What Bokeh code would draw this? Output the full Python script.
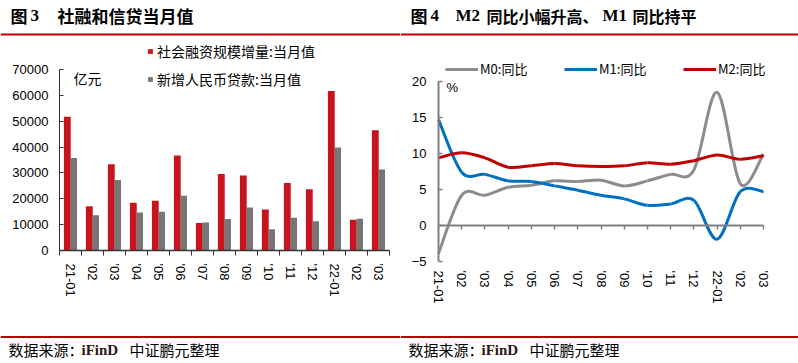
import numpy as np
from bokeh.plotting import figure
from bokeh.layouts import row
from bokeh.models import (Range1d, FixedTicker, LinearAxis, Label, BoxAnnotation,
                          Legend, LegendItem, ColumnDataSource)
from bokeh.embed import file_html
from bokeh.resources import INLINE

# ---------------- data ----------------
months = ["21-01", "'02", "'03", "'04", "'05", "'06", "'07", "'08", "'09",
          "'10", "'11", "'12", "22-01", "'02", "'03"]
tsf = [51700, 17100, 33400, 18500, 19200, 36700, 10600, 29600, 29000,
       15900, 26100, 23700, 61700, 11900, 46500]
loans = [35800, 13600, 27300, 14700, 15000, 21200, 10800, 12200, 16600,
         8262, 12700, 11300, 39800, 12300, 31300]
m0 = [-3.9, 4.2, 4.2, 5.3, 5.6, 6.2, 6.1, 6.3, 5.5, 6.2, 7.1, 7.7, 18.5, 5.8, 9.9]
m1 = [14.7, 7.4, 7.1, 6.2, 6.1, 5.5, 4.9, 4.2, 3.7, 2.8, 3.0, 3.5, -1.9, 4.7, 4.7]
m2 = [9.4, 10.1, 9.4, 8.1, 8.3, 8.6, 8.3, 8.2, 8.3, 8.7, 8.5, 9.0, 9.8, 9.2, 9.7]
left_yticks = [0, 10000, 20000, 30000, 40000, 50000, 60000, 70000]
right_yticks = [-5, 0, 5, 10, 15, 20]
left_series = ["社会融资规模增量:当月值", "新增人民币贷款:当月值"]
right_series = ["M0:同比", "M1:同比", "M2:同比"]

RED_BAR = "#C8141E"
GRAY_BAR = "#767676"
C_M0, C_M1, C_M2 = "#8C8C8C", "#0070C0", "#C00000"
LINE_RED = "#C00000"
CJK = "Noto Sans CJK SC"
LAT = "Liberation Sans"
SERIF = "Liberation Serif"

W_L, W_R, H = 400, 398, 363


def lab(p, x, y, text, size="14px", font=CJK, style="normal", color="black"):
    p.add_layout(Label(x=x, y=y, x_units="screen", y_units="screen", text=text,
                       text_font=font, text_font_size=size, text_font_style=style,
                       text_color=color, text_baseline="middle", text_align="left"))


def hline(p, left, right, bottom, top):
    p.add_layout(BoxAnnotation(left=left, right=right, bottom=bottom, top=top,
                               left_units="screen", right_units="screen",
                               bottom_units="screen", top_units="screen",
                               fill_color=LINE_RED, fill_alpha=1, line_color=None,
                               line_alpha=0))


def smooth(xs, ys):
    x = np.asarray(xs, float)
    y = np.asarray(ys, float)
    xp = np.concatenate([[x[0]], x, [x[-1]]])
    yp = np.concatenate([[y[0]], y, [y[-1]]])
    n = len(x)
    cx0 = x[:-1] + (xp[2:n + 1] - xp[0:n - 1]) / 6.0
    cy0 = y[:-1] + (yp[2:n + 1] - yp[0:n - 1]) / 6.0
    cx1 = x[1:] - (xp[3:n + 2] - xp[1:n]) / 6.0
    cy1 = y[1:] - (yp[3:n + 2] - yp[1:n]) / 6.0
    return dict(x0=x[:-1], y0=y[:-1], x1=x[1:], y1=y[1:],
                cx0=cx0, cy0=cy0, cx1=cx1, cy1=cy1)


def make_fig(w, xr, yr):
    p = figure(frame_width=w, frame_height=H, output_backend="svg", toolbar_location=None,
               x_range=Range1d(*xr), y_range=Range1d(*yr),
               x_axis_location=None, y_axis_location=None,
               min_border_left=0, min_border_right=0, min_border_top=0, min_border_bottom=0)
    p.outline_line_color = None
    p.xgrid.visible = False
    p.ygrid.visible = False
    return p


n = len(months)
idx = np.arange(n)

# ---------------- left chart ----------------
# frame covers the whole figure; plot area: x -0.5..14.5 -> 59..389 px, y 0..70000 -> 250..69 px
cat_px = 22.0
ypx_l = 70000 / 181.0
xl = (-0.5 - 59 / cat_px, -0.5 + (W_L - 59) / cat_px)
yl = (-(H - 250) * ypx_l, 70000 + 69 * ypx_l)
pl = make_fig(W_L, xl, yl)

bar1 = pl.vbar(x=idx - 0.145, top=tsf, width=0.31, fill_color=RED_BAR, line_color=None)
bar2 = pl.vbar(x=idx + 0.15, top=loans, width=0.29, fill_color=GRAY_BAR, line_color=None)

yax = LinearAxis(ticker=FixedTicker(ticks=left_yticks, minor_ticks=[]),
                 fixed_location=-0.5, bounds=(0, 70000))
yax.axis_line_color = "#333333"
yax.major_tick_line_color = "#333333"
yax.major_tick_in = 4
yax.major_tick_out = 0
yax.major_label_standoff = 11
yax.major_label_text_font = LAT
yax.major_label_text_font_size = "13px"
yax.major_label_text_color = "black"
pl.add_layout(yax, "left")

xax = LinearAxis(ticker=FixedTicker(ticks=list(idx), minor_ticks=list(np.arange(-0.5, n, 1.0))),
                 fixed_location=0, bounds=(-0.5, n - 0.5))
xax.major_label_overrides = {int(i): months[i] for i in idx}
xax.axis_line_color = "#333333"
xax.axis_line_width = 1.5
xax.major_tick_line_color = None
xax.major_tick_out = 0
xax.major_tick_in = 0
xax.minor_tick_line_color = "#333333"
xax.minor_tick_out = 5
xax.minor_tick_in = 0
xax.major_label_orientation = "vertical"
xax.major_label_standoff = 8
xax.major_label_text_font = LAT
xax.major_label_text_font_size = "13px"
xax.major_label_text_color = "black"
pl.add_layout(xax, "below")

leg_l = Legend(items=[LegendItem(label=left_series[0], renderers=[bar1]),
                      LegendItem(label=left_series[1], renderers=[bar2])],
               location=(147, 274), orientation="vertical",
               glyph_width=6, glyph_height=6, label_height=6, label_standoff=4,
               spacing=8, padding=0, margin=0, border_line_color=None,
               background_fill_alpha=0, label_text_font=CJK, label_text_font_size="14px",
               label_text_color="black")
pl.add_layout(leg_l, "center")

lab(pl, 73, 286, "亿元", size="14px")
lab(pl, 10, 348, "图", size="17px", style="bold")
lab(pl, 30, 348, "3", size="17px", font=SERIF, style="bold")
lab(pl, 57, 348, "社融和信贷当月值", size="17px", style="bold")
lab(pl, 8, 14, "数据来源：", size="15px")
lab(pl, 81, 14, "iFinD", size="15px", font=SERIF, style="bold", color="#2a1a10")
lab(pl, 129, 14, "中证鹏元整理", size="15px")
hline(pl, 0, W_L, 328, 330)
hline(pl, 0, W_L, 25.5, 27.5)

# ---------------- right chart ----------------
# plot area: x 0..14 -> 38..363 px, y -5..20 -> 261..81 px
pt_px = 325.0 / (n - 1)
ypx_r = 25.0 / 180.0
xr = (-38 / pt_px, (n - 1) + (W_R - 363) / pt_px)
yr = (-5 - (H - 261) * ypx_r, 20 + 81 * ypx_r)
pr = make_fig(W_R, xr, yr)

ryax = LinearAxis(ticker=FixedTicker(ticks=right_yticks, minor_ticks=[]),
                  fixed_location=0, bounds=(-5, 20))
ryax.axis_line_color = "#808080"
ryax.axis_line_width = 2
ryax.major_tick_line_color = "#808080"
ryax.major_tick_line_width = 1.5
ryax.major_tick_in = 4
ryax.major_tick_out = 0
ryax.major_label_standoff = 12
ryax.major_label_text_font = LAT
ryax.major_label_text_font_size = "13px"
ryax.major_label_text_color = "black"
pr.add_layout(ryax, "left")

zax = LinearAxis(ticker=FixedTicker(ticks=list(idx), minor_ticks=[]),
                 fixed_location=0, bounds=(0, n - 1))
zax.major_label_overrides = {int(i): "" for i in idx}
zax.axis_line_color = "#808080"
zax.axis_line_width = 2
zax.major_tick_line_color = "#808080"
zax.major_tick_line_width = 1.5
zax.major_tick_in = 0
zax.major_tick_out = 4
pr.add_layout(zax, "below")

rxax = LinearAxis(ticker=FixedTicker(ticks=list(idx), minor_ticks=[]),
                  fixed_location=-5, bounds=(0, n - 1))
rxax.major_label_overrides = {int(i): months[i] for i in idx}
rxax.axis_line_color = None
rxax.major_tick_line_color = None
rxax.major_tick_in = 0
rxax.major_tick_out = 0
rxax.major_label_orientation = "vertical"
rxax.major_label_standoff = 9
rxax.major_label_text_font = LAT
rxax.major_label_text_font_size = "13px"
rxax.major_label_text_color = "black"
pr.add_layout(rxax, "below")

curves = []
for ser, col in ((m0, C_M0), (m1, C_M1), (m2, C_M2)):
    r = pr.bezier(source=ColumnDataSource(smooth(idx, ser)), x0="x0", y0="y0", x1="x1", y1="y1",
                  cx0="cx0", cy0="cy0", cx1="cx1", cy1="cy1", line_color=col, line_width=3)
    curves.append(r)

items = [LegendItem(label=name, renderers=[r]) for name, r in zip(right_series, curves)]
leg_r = Legend(items=items, location=(45, 285), orientation="horizontal",
               glyph_width=33, glyph_height=6, label_height=6, label_standoff=2,
               label_width=84, spacing=0, padding=0, margin=0, border_line_color=None,
               background_fill_alpha=0, label_text_font=CJK, label_text_font_size="13px",
               label_text_color="black")
pr.add_layout(leg_r, "center")

lab(pr, 46, 276, "%", size="13px", font=LAT)
lab(pr, 10, 348, "图", size="17px", style="bold")
lab(pr, 30, 348, "4", size="17px", font=SERIF, style="bold")
lab(pr, 55, 348, "M2", size="17px", font=SERIF, style="bold")
lab(pr, 86, 348, "同比小幅升高、", size="16px", style="bold")
lab(pr, 202, 348, "M1", size="17px", font=SERIF, style="bold")
lab(pr, 232, 348, "同比持平", size="16px", style="bold")
lab(pr, 8, 14, "数据来源：", size="15px")
lab(pr, 81, 14, "iFinD", size="15px", font=SERIF, style="bold", color="#2a1a10")
lab(pr, 129, 14, "中证鹏元整理", size="15px")
hline(pr, 0, W_R, 328, 330)
hline(pr, 0, W_R, 25.5, 27.5)

layout = row(pl, pr)
open("out.html", "w").write(file_html(layout, INLINE))
